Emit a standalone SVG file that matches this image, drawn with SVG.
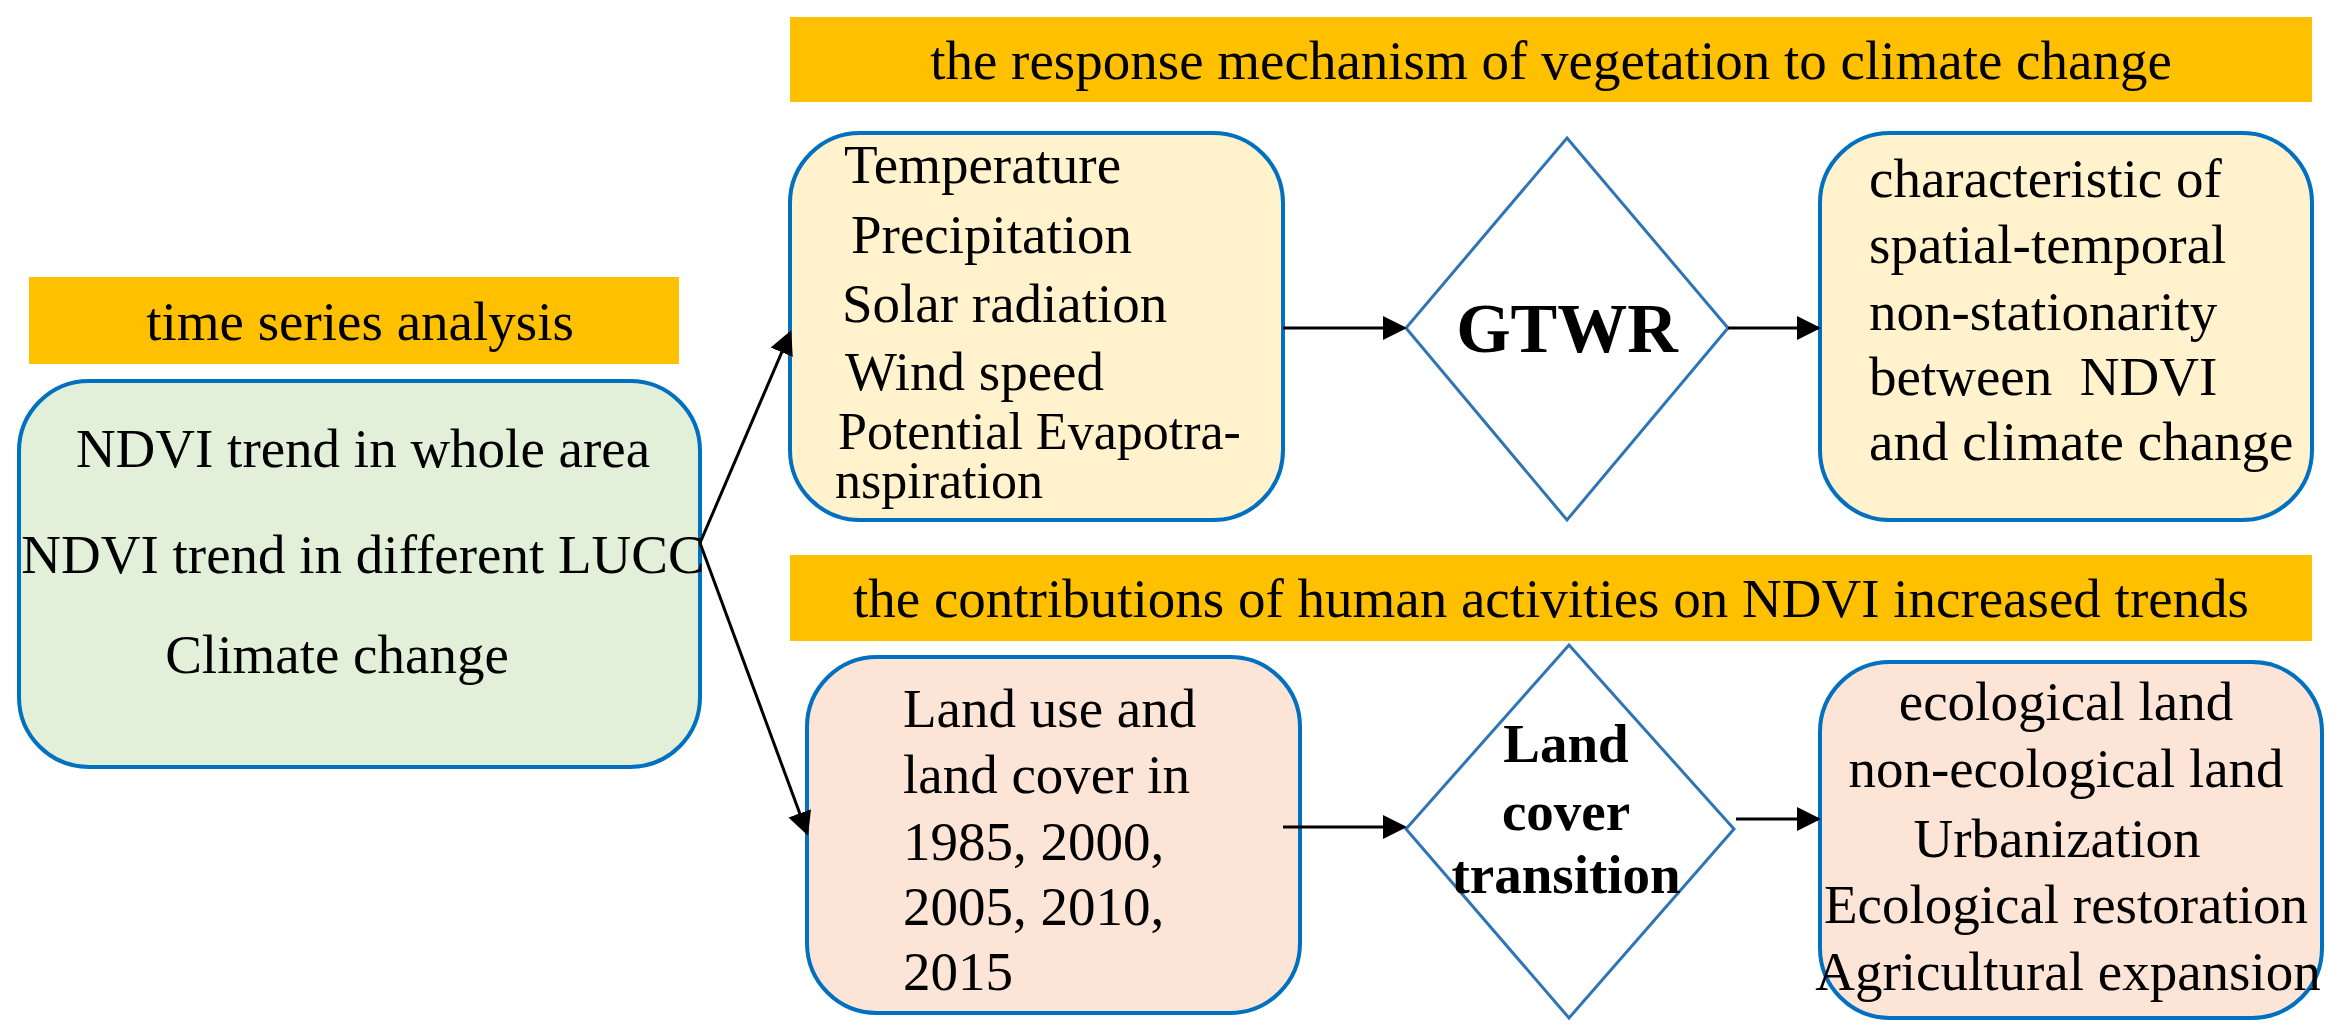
<svg xmlns="http://www.w3.org/2000/svg" width="2343" height="1029" viewBox="0 0 2343 1029">
<style>
text{font-family:"Liberation Serif","Times New Roman",serif;font-size:55px;fill:#000}
.b{fill:#FFC000}
.box{stroke:#0070C0;stroke-width:4}
.g{fill:#E2F0D9}.y{fill:#FFF2CC}.p{fill:#FCE4D6}
.d{fill:#fff;stroke:#2E75B6;stroke-width:3}
.c{stroke:#000;stroke-width:3;fill:none;marker-end:url(#ah)}
.m{text-anchor:middle}
.bold{font-weight:bold}
.s{font-size:52px}
</style>
<defs><marker id="ah" markerWidth="8" markerHeight="8" refX="7" refY="4" orient="auto" markerUnits="strokeWidth"><path d="M0,0L8,4L0,8z" fill="#000"/></marker></defs>
<rect width="2343" height="1029" fill="#fff"/>
<g id="banner-tsa"><rect class="b" x="29" y="277" width="650" height="87"/><text class="m" x="360" y="340">time series analysis</text></g>
<g id="banner-response"><rect class="b" x="790" y="17" width="1522" height="85"/><text class="m" x="1551" y="79">the response mechanism of vegetation to climate change</text></g>
<g id="banner-human"><rect class="b" x="790" y="555" width="1522" height="86"/><text class="m" x="1551" y="617">the contributions of human activities on NDVI increased trends</text></g>
<g id="tsa"><rect class="box g" x="19" y="381" width="681" height="386" rx="70"/>
<text class="m" x="363" y="467">NDVI trend in whole area</text>
<text class="m" x="363" y="573">NDVI trend in different LUCC</text>
<text class="m" x="337" y="673">Climate change</text></g>
<g id="climate"><rect class="box y" x="790" y="133" width="493" height="387" rx="70"/>
<text x="844" y="183">Temperature</text>
<text x="851" y="253">Precipitation</text>
<text x="842" y="322">Solar radiation</text>
<text x="845" y="390">Wind speed</text>
<text class="s" x="838" y="449">Potential Evapotra-</text>
<text class="s" x="835" y="498">nspiration</text></g>
<g id="gtwr"><polygon class="d" points="1567,138 1728,328 1567,520 1406,328"/><text class="m bold" x="1567" y="352" style="font-size:70px">GTWR</text></g>
<g id="nonstat"><rect class="box y" x="1820" y="133" width="492" height="387" rx="70"/>
<text x="1869" y="197">characteristic of</text>
<text x="1869" y="263">spatial-temporal</text>
<text x="1869" y="330">non-stationarity</text>
<text x="1869" y="395" xml:space="preserve">between  NDVI</text>
<text x="1869" y="460">and climate change</text></g>
<g id="lucc"><rect class="box p" x="807" y="657" width="493" height="356" rx="70"/>
<text x="903" y="727">Land use and</text>
<text x="903" y="793">land cover in</text>
<text x="903" y="860">1985, 2000,</text>
<text x="903" y="925">2005, 2010,</text>
<text x="903" y="990">2015</text></g>
<g id="transition"><polygon class="d" points="1569,645 1734,829 1569,1018 1406,829"/>
<text class="m bold" x="1566" y="762">Land</text>
<text class="m bold" x="1566" y="830">cover</text>
<text class="m bold" x="1566" y="893">transition</text></g>
<g id="results"><rect class="box p" x="1820" y="662" width="502" height="356" rx="70"/>
<text class="m" x="2066" y="720">ecological land</text>
<text class="m" x="2066" y="787">non-ecological land</text>
<text class="m" x="2057" y="857">Urbanization</text>
<text class="m" x="2066" y="923">Ecological restoration</text>
<text class="m" x="2068" y="990">Agricultural expansion</text></g>
<g id="connectors">
<path class="c" d="M700,543L790,333"/>
<path class="c" d="M700,543L807,833"/>
<path class="c" d="M1283,328L1404,328"/>
<path class="c" d="M1728,328L1818,328"/>
<path class="c" d="M1283,827L1404,827"/>
<path class="c" d="M1736,819L1818,819"/>
</g>
</svg>
